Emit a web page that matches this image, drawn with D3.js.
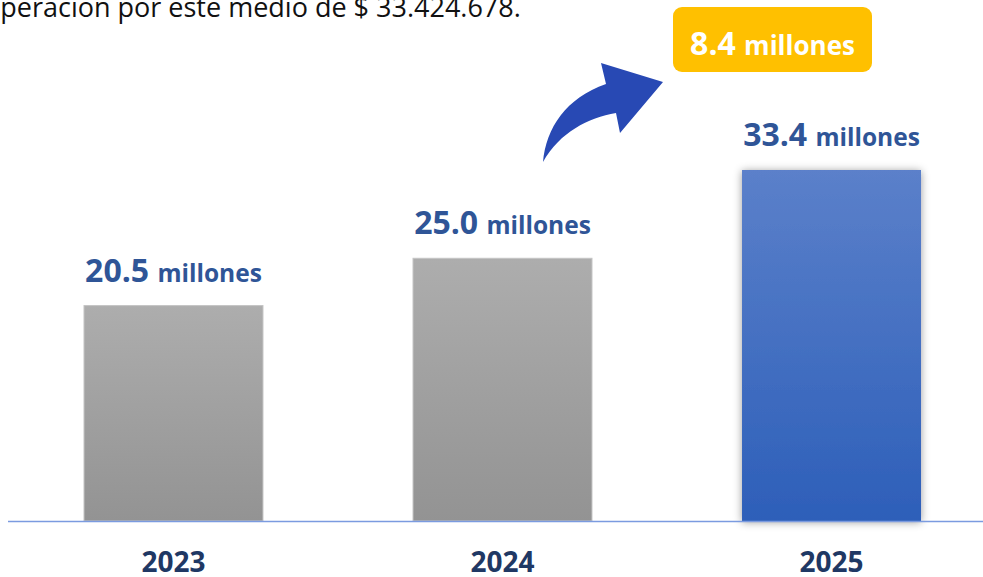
<!DOCTYPE html>
<html><head><meta charset="utf-8">
<script src="https://cdn.jsdelivr.net/npm/d3@7"></script>
<style>html,body{margin:0;padding:0;background:#fff;overflow:hidden}</style>
</head><body>
<svg id="chart" width="983" height="577"></svg>
<script>
const categories = ["2023", "2024", "2025"];
const values = [20.5, 25.0, 33.4];
const valueLabels = ["20.5", "25.0", "33.4"];
const unitLabel = "millones";
const increaseLabel = "8.4";
const headerText = "operación por este medio de $ 33.424.678.";

const W = 983, H = 577;
const svg = d3.select("#chart");
const baseY = 521;

const x = d3.scaleBand().domain(categories).range([0, 1005]).paddingInner(0.456).paddingOuter(0.2553);
const y = d3.scaleLinear().domain([0, 33.4]).range([baseY, 170]);

const defs = svg.append("defs");
const gGray = defs.append("linearGradient").attr("id","gGray").attr("x1",0).attr("y1",0).attr("x2",0).attr("y2",1);
gGray.append("stop").attr("offset","0%").attr("stop-color","#adadad");
gGray.append("stop").attr("offset","100%").attr("stop-color","#939393");
const gBlue = defs.append("linearGradient").attr("id","gBlue").attr("x1",0).attr("y1",0).attr("x2",0).attr("y2",1);
gBlue.append("stop").attr("offset","0%").attr("stop-color","#5b80ca");
gBlue.append("stop").attr("offset","100%").attr("stop-color","#2d5fb9");
const sh = defs.append("filter").attr("id","shadow").attr("x","-15%").attr("y","-10%").attr("width","130%").attr("height","120%");
sh.append("feDropShadow").attr("dx",0).attr("dy",1).attr("stdDeviation",4).attr("flood-color","#000").attr("flood-opacity",0.4);

// header text (clipped at top/left as in the source image)
svg.append("text").attr("x",-16).attr("y",17)
  .attr("font-family","'Open Sans', sans-serif").attr("font-size",27).attr("fill","#111")
  .text(headerText);

// bars
svg.selectAll("rect.bar").data(categories).enter().append("rect")
  .attr("class","bar")
  .attr("x", d => x(d))
  .attr("width", x.bandwidth())
  .attr("y", (d,i) => y(values[i]))
  .attr("height", (d,i) => baseY - y(values[i]))
  .attr("fill", (d,i) => i === 2 ? "url(#gBlue)" : "url(#gGray)")
  .attr("stroke", (d,i) => i === 2 ? "none" : "#c4c4c4")
  .attr("stroke-width", 1)
  .attr("filter", (d,i) => i === 2 ? "url(#shadow)" : null);

// baseline
svg.append("line").attr("x1",8).attr("x2",W).attr("y1",baseY+0.5).attr("y2",baseY+0.5)
  .attr("stroke","#7b9be0").attr("stroke-width",1.5);

// value labels
const lab = svg.selectAll("text.val").data(categories).enter().append("text")
  .attr("class","val")
  .attr("x", d => x(d) + x.bandwidth()/2)
  .attr("y", (d,i) => y(values[i]) - 24)
  .attr("text-anchor","middle")
  .attr("font-family","'Open Sans', sans-serif").attr("font-weight","bold")
  .attr("fill","#2f5597");
lab.append("tspan").attr("font-size",32).text((d,i) => valueLabels[i] + " ");
lab.append("tspan").attr("font-size",24.5).text(unitLabel);

// category labels
svg.selectAll("text.cat").data(categories).enter().append("text")
  .attr("class","cat")
  .attr("x", d => x(d) + x.bandwidth()/2)
  .attr("y", 572)
  .attr("text-anchor","middle")
  .attr("font-family","'Open Sans', sans-serif")
  .attr("font-weight","bold").attr("font-size",28)
  .attr("fill","#1f3864")
  .text(d => d);

// arrow
svg.append("path")
  .attr("d","M543,162 C546,128 566,98 606,84 L601,63 L663,82 L620,133 L616,113 C588,118 560,132 543,162 Z")
  .attr("fill","#2849b4");

// badge
const bx = 673, by = 7, bw = 199, bh = 65;
svg.append("rect").attr("x",bx).attr("y",by).attr("width",bw).attr("height",bh)
  .attr("rx",9).attr("fill","#ffc000");
const bt = svg.append("text").attr("x", bx + bw/2).attr("y", 55).attr("text-anchor","middle")
  .attr("font-family","'Open Sans', sans-serif").attr("font-weight","bold").attr("fill","#fff");
bt.append("tspan").attr("font-size",32).text(increaseLabel + " ");
bt.append("tspan").attr("font-size",26).text(unitLabel);
</script>
</body></html>
